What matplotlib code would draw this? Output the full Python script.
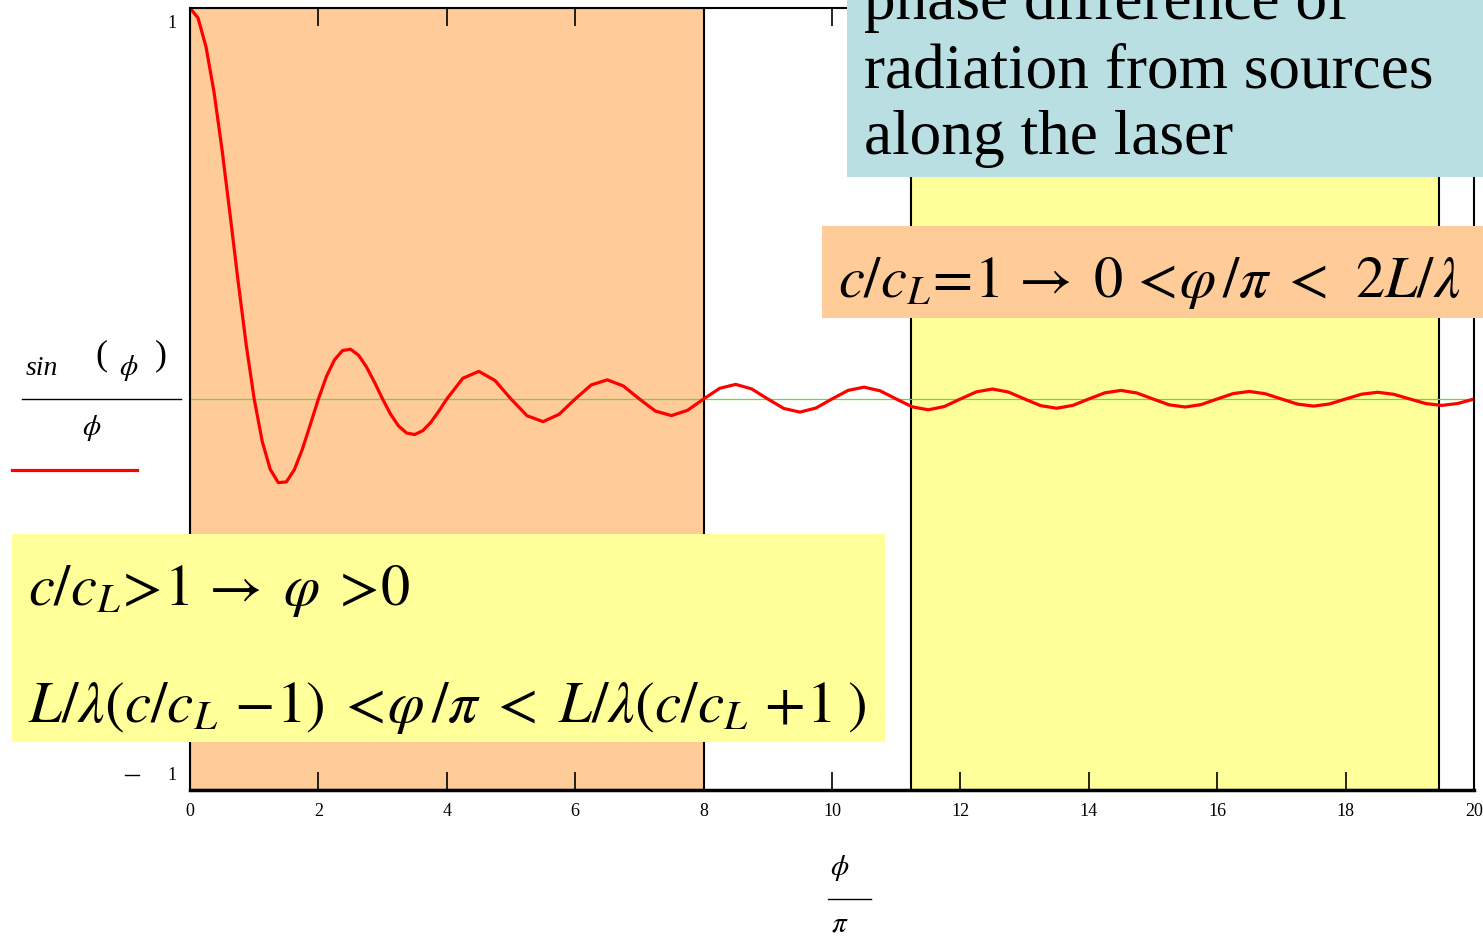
import matplotlib
matplotlib.use("Agg")
import matplotlib.pyplot as plt
from matplotlib.patches import Rectangle
from matplotlib.lines import Line2D

plt.rcParams['font.family'] = ['Liberation Serif', 'DejaVu Serif']
plt.rcParams['mathtext.fontset'] = 'stix'

# phi/pi sample positions and sin(phi)/phi
phi_pi = [0, 0.125, 0.25, 0.375, 0.5, 0.625, 0.75, 0.875, 1.0, 1.125, 1.25, 1.375,
          1.5, 1.625, 1.75, 1.875, 2.0, 2.125, 2.25, 2.375, 2.5, 2.625, 2.75, 2.875,
          3.0, 3.125, 3.25, 3.375, 3.5, 3.625, 3.75, 3.875, 4.0,
          4.25, 4.5, 4.75, 5.0, 5.25, 5.5, 5.75, 6.0, 6.25, 6.5, 6.75, 7.0, 7.25,
          7.5, 7.75, 8.0, 8.25, 8.5, 8.75, 9.0, 9.25, 9.5, 9.75, 10.0, 10.25, 10.5,
          10.75, 11.0, 11.25, 11.5, 11.75, 12.0, 12.25, 12.5, 12.75, 13.0, 13.25,
          13.5, 13.75, 14.0, 14.25, 14.5, 14.75, 15.0, 15.25, 15.5, 15.75, 16.0,
          16.25, 16.5, 16.75, 17.0, 17.25, 17.5, 17.75, 18.0, 18.25, 18.5, 18.75,
          19.0, 19.25, 19.5, 19.75, 20.0]
sinc_vals = [1.0, 0.9745, 0.9003, 0.7842, 0.6366, 0.4705, 0.3001, 0.1392, 0.0,
             -0.1083, -0.1801, -0.2139, -0.2122, -0.1810, -0.1286, -0.0650, 0.0,
             0.0573, 0.1000, 0.1238, 0.1273, 0.1120, 0.0818, 0.0424, 0.0,
             -0.0390, -0.0693, -0.0871, -0.0909, -0.0811, -0.0600, -0.0314, 0.0,
             0.0530, 0.0707, 0.0474, 0.0, -0.0429, -0.0579, -0.0391, 0.0,
             0.0360, 0.0490, 0.0333, 0.0, -0.0310, -0.0424, -0.0290, 0.0,
             0.0273, 0.0374, 0.0257, 0.0, -0.0243, -0.0335, -0.0231, 0.0,
             0.0220, 0.0303, 0.0209, 0.0, -0.0200, -0.0277, -0.0192, 0.0,
             0.0184, 0.0255, 0.0177, 0.0, -0.0170, -0.0236, -0.0164, 0.0,
             0.0158, 0.0220, 0.0153, 0.0, -0.0148, -0.0205, -0.0143, 0.0,
             0.0139, 0.0193, 0.0134, 0.0, -0.0130, -0.0182, -0.0127, 0.0,
             0.0123, 0.0172, 0.0120, 0.0, -0.0117, -0.0163, -0.0114, 0.0]

# shaded phase ranges (in phi/pi)
orange_span = (0, 8)
yellow_span = (11.23, 19.45)
xtick_vals = [0, 2, 4, 6, 8, 10, 12, 14, 16, 18, 20]

W, H = 1483, 936
ORANGE = '#FECB99'
YELLOW = '#FFFF99'
BLUE = '#BADFE2'


def fx(x):
    return x / W


def fy(y):
    return 1 - y / H


fig = plt.figure(figsize=(W / 100, H / 100), dpi=100)
ax = fig.add_axes([fx(190), fy(790), 1284 / W, 782 / H])

ax.axvspan(*orange_span, facecolor=ORANGE, edgecolor='black', lw=1.5, zorder=0)
ax.axvspan(*yellow_span, facecolor=YELLOW, edgecolor='black', lw=1.5, zorder=0)
ax.axhline(0, color='#66DD33', lw=0.9, zorder=1)
ax.plot(phi_pi, sinc_vals, color='red', lw=2.3, zorder=2)

ax.set_xlim(0, 20)
ax.set_ylim(-1, 1)
ax.set_xticks(xtick_vals)
ax.set_xticklabels([str(v) for v in xtick_vals], fontsize=13)
ax.tick_params(axis='x', direction='in', length=13, width=1.2, top=True, pad=9)
ax.set_yticks([])
for s in ['top', 'left', 'right']:
    ax.spines[s].set_linewidth(1.5)
ax.spines['bottom'].set_linewidth(2.5)

# y tick values written by hand in Mathcad style
fig.text(fx(172), fy(24), '1', fontsize=13, ha='center', va='center')
fig.add_artist(Line2D([fx(125), fx(139)], [fy(775), fy(775)], color='black', lw=1.0))
fig.text(fx(172), fy(776), '1', fontsize=13, ha='center', va='center')

# y axis label: sin(phi)/phi
fig.text(fx(42), fy(369), 'sin', fontsize=20, style='italic', ha='center', va='center')
fig.text(fx(101), fy(356), '(', fontsize=26, ha='center', va='center')
fig.text(fx(129), fy(368), r'$\phi$', fontsize=21, ha='center', va='center')
fig.text(fx(161), fy(356), ')', fontsize=26, ha='center', va='center')
fig.add_artist(Line2D([fx(22), fx(181)], [fy(399), fy(399)], color='black', lw=1.0))
fig.text(fx(92), fy(428), r'$\phi$', fontsize=21, ha='center', va='center')
fig.add_artist(Line2D([fx(12), fx(137)], [fy(470), fy(470)], color='red', lw=2.3))

# x axis label: phi/pi
fig.text(fx(840), fy(868), r'$\phi$', fontsize=21, ha='center', va='center')
fig.add_artist(Line2D([fx(828), fx(871)], [fy(899), fy(899)], color='black', lw=1.0))
fig.text(fx(840), fy(924), r'$\pi$', fontsize=21, ha='center', va='center')

# blue note box
fig.add_artist(Rectangle((fx(847), fy(177)), (W - 847) / W, 177 / H,
                         transform=fig.transFigure, facecolor=BLUE, edgecolor='none'))
fig.text(fx(864), fy(19), 'phase difference of', fontsize=45.5, va='baseline')
fig.text(fx(864), fy(88), 'radiation from sources', fontsize=45.5, va='baseline')
fig.text(fx(864), fy(154), 'along the laser', fontsize=45.5, va='baseline')

# orange formula box
fig.add_artist(Rectangle((fx(822), fy(318)), (W - 822) / W, 92 / H,
                         transform=fig.transFigure, facecolor=ORANGE, edgecolor='none'))
fig.text(fx(838), fy(297),
         r'$c/c_L\!=\!1\,\rightarrow\;0\,<\!\varphi\,/\pi\;<\;\,2L/\lambda$',
         fontsize=42, va='baseline')

# yellow formula box
fig.add_artist(Rectangle((fx(12), fy(742)), (885 - 12) / W, (742 - 534) / H,
                         transform=fig.transFigure, facecolor=YELLOW, edgecolor='none'))
fig.text(fx(28), fy(605), r'$c/c_L\!>\!1\,\rightarrow\;\varphi\;>\!0$',
         fontsize=42, va='baseline')
fig.text(fx(28), fy(722),
         r'$L/\lambda(c/c_L\,-\!1)\;<\!\varphi\,/\pi\;<\;L/\lambda(c/c_L\,+\!1\;)$',
         fontsize=42.5, va='baseline')

fig.savefig('out.png', dpi=100)
